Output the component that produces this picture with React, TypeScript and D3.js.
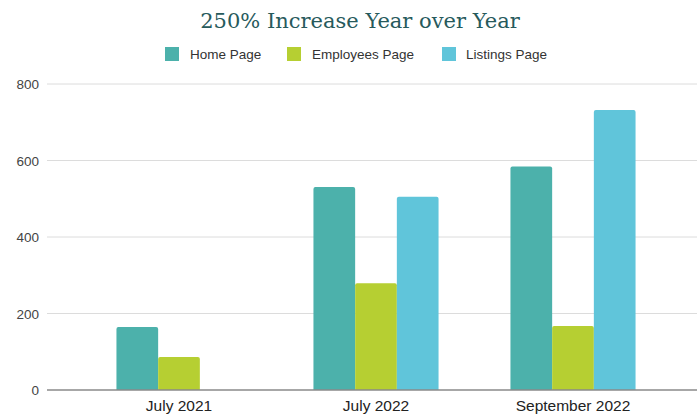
import React from "react";
import * as d3 from "d3";

const categories = ["July 2021", "July 2022", "September 2022"];
const seriesNames = ["Home Page", "Employees Page", "Listings Page"];
const homePage = [165, 531, 584];
const employeesPage = [86, 279, 167];
const listingsPage = [0, 505, 732];
const yTicks = [0, 200, 400, 600, 800];
const colors = ["#4cb1ab", "#b6cf32", "#60c5da"];

const W = 697;
const H = 419;

export default function App() {
  const series = [homePage, employeesPage, listingsPage];
  const y = d3.scaleLinear().domain([0, 800]).range([390, 84]);
  const x = d3
    .scaleBand<string>()
    .domain(categories)
    .range([80.5, 671.5])
    .paddingInner(0.365)
    .paddingOuter(0.1825);
  const xs = d3
    .scaleBand<string>()
    .domain(seriesNames)
    .range([0, x.bandwidth()]);

  const legendX = [165, 287, 442];
  const legendTextX = [190, 312, 466];

  return (
    <svg
      width={W}
      height={H}
      style={{ position: "absolute", left: 0, top: 0, background: "#fff" }}
    >
      <text
        x={360}
        y={28}
        textAnchor="middle"
        fontFamily="'DejaVu Serif', serif"
        fontSize={21}
        fill="#275a5c"
      >
        250% Increase Year over Year
      </text>
      {seriesNames.map((s, i) => (
        <g key={s}>
          <rect x={legendX[i]} y={47} width={14} height={14} fill={colors[i]} />
          <text
            x={legendTextX[i]}
            y={59}
            fontFamily="'Liberation Sans', Arial, sans-serif"
            fontSize={13.5}
            fill="#333"
          >
            {s}
          </text>
        </g>
      ))}
      {yTicks.map((t) => (
        <g key={t}>
          {t !== 0 && (
            <line x1={47} x2={697} y1={y(t)} y2={y(t)} stroke="#dcdcdc" strokeWidth={1} />
          )}
          <text
            x={39}
            y={y(t) + 5}
            textAnchor="end"
            fontFamily="'Liberation Sans', Arial, sans-serif"
            fontSize={13.5}
            fill="#444"
          >
            {t}
          </text>
        </g>
      ))}
      {categories.map((c, ci) => (
        <g key={c} transform={`translate(${x(c)},0)`}>
          {series.map((vals, si) =>
            vals[ci] > 0 ? (
              <path
                key={si}
                d={(() => {
                  const x0 = xs(seriesNames[si])!;
                  const x1 = x0 + xs.bandwidth();
                  const yt = y(vals[ci]);
                  const yb = y(0);
                  const r = 2;
                  return `M${x0},${yb}V${yt + r}Q${x0},${yt} ${x0 + r},${yt}H${x1 - r}Q${x1},${yt} ${x1},${yt + r}V${yb}Z`;
                })()}
                fill={colors[si]}
              />
            ) : null
          )}
          <text
            x={x.bandwidth() / 2}
            y={411}
            textAnchor="middle"
            fontFamily="'Liberation Sans', Arial, sans-serif"
            fontSize={15.5}
            fill="#222"
          >
            {c}
          </text>
        </g>
      ))}
      <line x1={47} x2={697} y1={y(0)} y2={y(0)} stroke="#8a8a8a" strokeWidth={1.5} />
    </svg>
  );
}
